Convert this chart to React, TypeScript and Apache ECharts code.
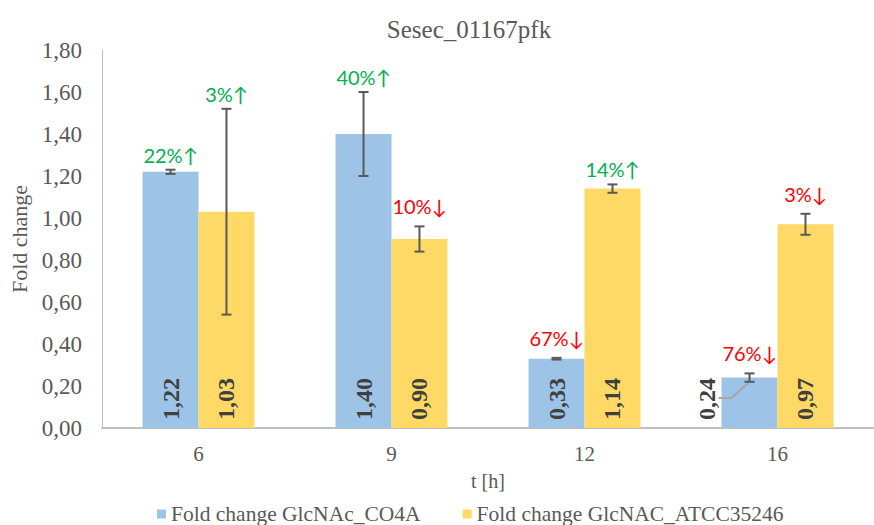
import React, { useEffect, useRef } from "react";
import * as echarts from "echarts";

const categories = ["6", "9", "12", "16"];
const co4aValues = [1.22, 1.4, 0.33, 0.24];
const co4aErrors = [0.01, 0.2, 0.004, 0.02];
const atccValues = [1.03, 0.9, 1.14, 0.97];
const atccErrors = [0.49, 0.06, 0.02, 0.05];
const co4aChanges = ["22%↑", "40%↑", "67%↓", "76%↓"];
const atccChanges = ["3%↑", "10%↓", "14%↑", "3%↓"];
const co4aLabelOutside = [false, false, false, true];
const atccLabelOutside = [false, false, false, false];
const yTicks = [0, 0.2, 0.4, 0.6, 0.8, 1.0, 1.2, 1.4, 1.6, 1.8];

const BLUE = "#9dc3e6";
const YELLOW = "#ffd966";
const GREY = "#595959";
const SERIF = "Liberation Serif";
const SANS = "Lato";
const CAT_GAP = 0.42;

const fmt = (v: number) => v.toFixed(2).replace(".", ",");

function errorSeries(values: number[], errors: number[], changes: string[], outside: boolean[], side: number) {
  return {
    type: "custom",
    z: 5,
    data: values.map((v, i) => [i, v, errors[i]]),
    renderItem: (params: any, api: any) => {
      const i = params.dataIndex;
      const idx = api.value(0);
      const v = api.value(1);
      const e = api.value(2);
      const band = api.size([1, 0])[0];
      const barW = (band * (1 - CAT_GAP)) / 2;
      const top = api.coord([idx, v + e]);
      const bot = api.coord([idx, v - e]);
      const base = api.coord([idx, 0]);
      const x = top[0] + (side * barW) / 2;
      const cap = 5;
      const ls = { stroke: GREY, lineWidth: 2 };
      const txt = changes[i];
      const up = txt.indexOf("↑") >= 0;
      const children: any[] = [];
      if (outside[i]) {
        const left = x - barW / 2;
        const yMid = base[1] - 30;
        children.push({
          type: "polyline",
          shape: { points: [[left - 3, yMid], [left + 10, yMid], [x - 1, bot[1] + 1]] },
          style: { stroke: "#a6a6a6", lineWidth: 2, fill: "none" },
        });
      }
      children.push(
        { type: "line", shape: { x1: x, y1: top[1], x2: x, y2: bot[1] }, style: ls },
        { type: "line", shape: { x1: x - cap, y1: top[1], x2: x + cap, y2: top[1] }, style: ls },
        { type: "line", shape: { x1: x - cap, y1: bot[1], x2: x + cap, y2: bot[1] }, style: ls },
        {
          type: "text",
          x: x,
          y: top[1] - (up ? 15 : 20),
          style: {
            text: txt,
            fill: up ? "#00b050" : "#ff0000",
            font: `20px ${SANS}`,
            align: "center",
            verticalAlign: "middle",
          },
        }
      );
      return { type: "group", children };
    },
  };
}

const barLabel = {
  show: true,
  position: "insideBottom",
  rotate: 90,
  align: "left",
  verticalAlign: "middle",
  distance: 8,
  formatter: (p: any) => fmt(p.value),
  fontFamily: SERIF,
  fontWeight: "bold",
  fontSize: 24,
  color: "#404040",
};

const outsideLayout = (outside: boolean[]) => (p: any) => {
  if (!outside[p.dataIndex]) return {};
  const r = p.rect;
  return {
    x: r.x - 15,
    y: r.y + r.height - 8,
    align: "left",
    verticalAlign: "middle",
  };
};

export default function App() {
  const ref = useRef<HTMLDivElement>(null);
  useEffect(() => {
    if (!ref.current) return;
    const chart = echarts.init(ref.current, null, { renderer: "svg" });
    chart.setOption({
      animation: false,
      backgroundColor: "#ffffff",
      title: {
        text: "Sesec_01167pfk",
        left: 464,
        top: 12,
        textAlign: "center",
        textStyle: { fontFamily: SERIF, fontSize: 25, fontWeight: "normal", color: GREY },
      },
      legend: {
        left: 152,
        top: 498,
        itemWidth: 9,
        itemHeight: 9,
        itemGap: 42,
        icon: "rect",
        textStyle: { fontFamily: SERIF, fontSize: 21.5, color: GREY },
        data: ["Fold change GlcNAc_CO4A", "Fold change GlcNAC_ATCC35246"],
      },
      grid: { left: 102, top: 50, width: 778, height: 378 },
      xAxis: {
        type: "category",
        data: categories,
        name: "t [h]",
        nameLocation: "middle",
        nameGap: 43,
        nameTextStyle: { fontFamily: SERIF, fontSize: 20, color: GREY },
        axisLine: { lineStyle: { color: "#bfbfbf", width: 2 } },
        axisTick: { show: false },
        axisLabel: { margin: 15, fontFamily: SERIF, fontSize: 21, color: GREY },
      },
      yAxis: {
        type: "value",
        min: 0,
        max: yTicks[yTicks.length - 1],
        interval: 0.2,
        name: "Fold change",
        nameLocation: "middle",
        nameGap: 69,
        nameTextStyle: { fontFamily: SERIF, fontSize: 22, color: GREY },
        axisLine: { show: true, lineStyle: { color: "#bfbfbf", width: 1 } },
        axisTick: { show: false },
        splitLine: { show: false },
        axisLabel: { margin: 20, fontFamily: SERIF, fontSize: 23, color: GREY, formatter: (v: number) => fmt(v) },
      },
      series: [
        {
          name: "Fold change GlcNAc_CO4A",
          type: "bar",
          data: co4aValues,
          barGap: "0%",
          barCategoryGap: CAT_GAP * 100 + "%",
          itemStyle: { color: BLUE },
          label: barLabel,
          labelLayout: outsideLayout(co4aLabelOutside),
        },
        {
          name: "Fold change GlcNAC_ATCC35246",
          type: "bar",
          data: atccValues,
          barGap: "0%",
          barCategoryGap: CAT_GAP * 100 + "%",
          itemStyle: { color: YELLOW },
          label: barLabel,
          labelLayout: outsideLayout(atccLabelOutside),
        },
        errorSeries(co4aValues, co4aErrors, co4aChanges, co4aLabelOutside, -1),
        errorSeries(atccValues, atccErrors, atccChanges, atccLabelOutside, 1),
      ],
    });
    return () => chart.dispose();
  }, []);
  return <div ref={ref} style={{ width: 874, height: 525, position: "absolute", left: 0, top: 0 }} />;
}
